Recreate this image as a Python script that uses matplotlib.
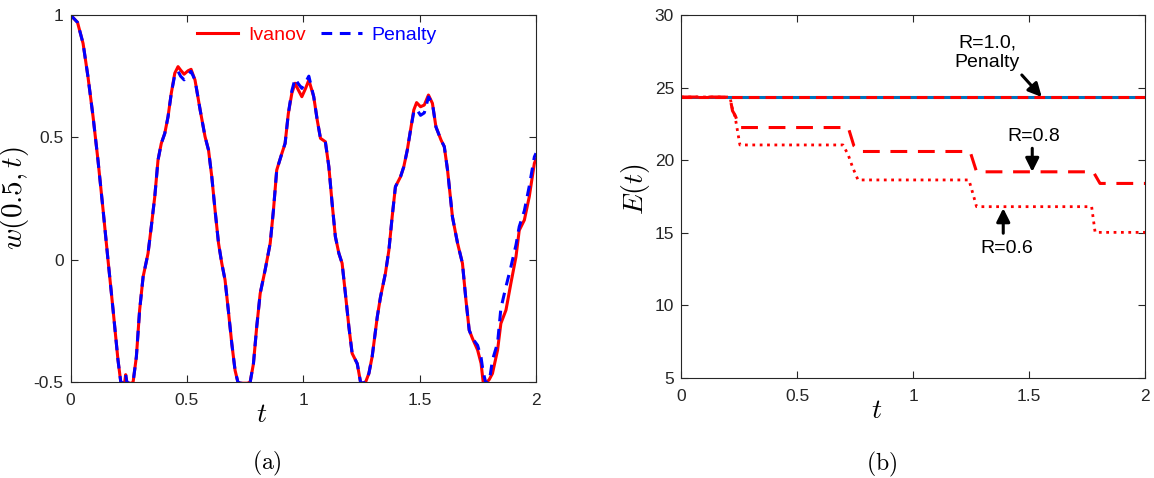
import numpy as np
import matplotlib
matplotlib.use('Agg')
import matplotlib.pyplot as plt

plt.rcParams['font.family'] = ['Liberation Sans', 'DejaVu Sans']
plt.rcParams['mathtext.fontset'] = 'cm'

# (a) displacement at x=0.5
t_iv = [0.0, 0.03, 0.054, 0.075, 0.097, 0.118, 0.14, 0.161, 0.183, 0.204, 0.216, 0.225, 0.233, 0.237, 0.242,
        0.25, 0.262, 0.269, 0.283, 0.297, 0.312, 0.333, 0.347, 0.362, 0.376, 0.39, 0.405, 0.419, 0.433, 0.448,
        0.462, 0.473, 0.488, 0.505, 0.518, 0.535, 0.557, 0.578, 0.593, 0.607, 0.621, 0.636, 0.65, 0.664, 0.678,
        0.693, 0.707, 0.719, 0.73, 0.76, 0.772, 0.786, 0.8, 0.815, 0.836, 0.858, 0.872, 0.886, 0.908, 0.922,
        0.936, 0.951, 0.965, 0.978, 0.994, 1.01, 1.024, 1.045, 1.06, 1.074, 1.095, 1.11, 1.124, 1.138, 1.153,
        1.167, 1.181, 1.196, 1.21, 1.232, 1.246, 1.255, 1.268, 1.282, 1.296, 1.318, 1.332, 1.353, 1.368, 1.382,
        1.396, 1.418, 1.432, 1.447, 1.461, 1.475, 1.487, 1.504, 1.52, 1.538, 1.555, 1.57, 1.592, 1.606, 1.62,
        1.641, 1.663, 1.684, 1.699, 1.713, 1.727, 1.749, 1.764, 1.773, 1.785, 1.799, 1.813, 1.835, 1.849, 1.871,
        1.892, 1.914, 1.928, 1.95, 1.971, 1.993, 2.0]
w_iv = [1.0, 0.97, 0.884, 0.748, 0.584, 0.407, 0.203, 0.0, -0.206, -0.41, -0.5, -0.505, -0.5, -0.47, -0.5,
        -0.505, -0.505, -0.5, -0.397, -0.206, -0.07, 0.025, 0.134, 0.257, 0.407, 0.475, 0.516, 0.584, 0.68, 0.762,
        0.789, 0.775, 0.758, 0.772, 0.778, 0.734, 0.612, 0.503, 0.448, 0.339, 0.203, 0.067, -0.015, -0.083, -0.206,
        -0.343, -0.452, -0.5, -0.505, -0.505, -0.5, -0.425, -0.275, -0.138, -0.043, 0.067, 0.203, 0.366, 0.434, 0.475,
        0.598, 0.68, 0.721, 0.695, 0.666, 0.7, 0.734, 0.666, 0.571, 0.496, 0.482, 0.38, 0.23, 0.094, 0.026,
        -0.015, -0.138, -0.274, -0.383, -0.425, -0.5, -0.505, -0.5, -0.465, -0.397, -0.234, -0.152, -0.056, 0.039, 0.175,
        0.298, 0.339, 0.38, 0.448, 0.53, 0.612, 0.642, 0.625, 0.632, 0.673, 0.639, 0.543, 0.489, 0.462, 0.366,
        0.175, 0.067, -0.015, -0.165, -0.288, -0.322, -0.369, -0.424, -0.5, -0.505, -0.49, -0.465, -0.369, -0.261, -0.206,
        -0.097, 0.012, 0.12, 0.162, 0.257, 0.394, 0.41]
t_pen = t_iv
w_pen = [1.0, 0.97, 0.884, 0.748, 0.584, 0.407, 0.203, 0.0, -0.206, -0.41, -0.5, -0.505, -0.5, -0.47, -0.5,
         -0.505, -0.505, -0.5, -0.397, -0.206, -0.07, 0.025, 0.134, 0.257, 0.407, 0.475, 0.516, 0.584, 0.68, 0.755,
         0.77, 0.75, 0.735, 0.755, 0.77, 0.734, 0.612, 0.503, 0.448, 0.339, 0.203, 0.067, -0.015, -0.083, -0.206,
         -0.343, -0.452, -0.5, -0.505, -0.505, -0.5, -0.425, -0.275, -0.138, -0.043, 0.067, 0.203, 0.366, 0.434, 0.475,
         0.598, 0.69, 0.74, 0.72, 0.70, 0.725, 0.75, 0.666, 0.571, 0.496, 0.482, 0.38, 0.23, 0.094, 0.026,
         -0.015, -0.138, -0.274, -0.383, -0.425, -0.5, -0.505, -0.5, -0.465, -0.397, -0.234, -0.152, -0.056, 0.039, 0.175,
         0.298, 0.339, 0.38, 0.448, 0.53, 0.605, 0.615, 0.59, 0.60, 0.665, 0.639, 0.543, 0.489, 0.462, 0.366,
         0.175, 0.067, -0.015, -0.165, -0.288, -0.322, -0.35, -0.40, -0.46, -0.505, -0.5, -0.41, -0.34, -0.2, -0.11,
         -0.03, 0.06, 0.135, 0.2, 0.3, 0.42, 0.435]

# (b) energy
t_r10 = [0.0, 2.0]
e_r10 = [24.35, 24.35]
t_r08 = [0.0, 0.211, 0.222, 0.233, 0.254, 0.721, 0.745, 0.772, 1.246, 1.274, 1.777, 1.806, 2.0]
e_r08 = [24.35, 24.35, 23.4, 23.1, 22.25, 22.25, 21.0, 20.6, 20.6, 19.2, 19.2, 18.4, 18.4]
t_r06 = [0.0, 0.211, 0.222, 0.233, 0.254, 0.698, 0.72, 0.74, 0.763, 1.241, 1.26, 1.274, 1.77, 1.785, 2.0]
e_r06 = [24.35, 24.35, 23.5, 23.0, 21.05, 21.05, 20.4, 19.5, 18.64, 18.64, 17.6, 16.8, 16.8, 15.03, 15.03]

xticks = [0, 0.5, 1, 1.5, 2]
xticklabels = ['0', '0.5', '1', '1.5', '2']

W, H = 1154, 478
fig = plt.figure(figsize=(W / 100, H / 100), dpi=100)
ax1 = fig.add_axes([70.5 / W, 1 - 382 / H, 465.5 / W, 367 / H])
ax2 = fig.add_axes([681 / W, 1 - 378 / H, 464 / W, 363 / H])

grey = '#262626'
for ax in (ax1, ax2):
    ax.tick_params(direction='in', top=True, right=True, length=5, width=0.8,
                   labelsize=12.5, colors=grey)
    ax.tick_params(axis='x', pad=8)
    ax.tick_params(axis='y', pad=5)
    for s in ax.spines.values():
        s.set_color(grey)
        s.set_linewidth(0.8)
    ax.set_xlim(0, 2)
    ax.set_xticks(xticks)
    ax.set_xticklabels(xticklabels)

ax1.plot(t_iv, w_iv, color='red', lw=2.2, label='Ivanov')
ax1.plot(t_pen, w_pen, color='blue', lw=2.2, ls='--', dashes=(3.5, 2.5), label='Penalty')
ax1.set_ylim(-0.5, 1)
ax1.set_yticks([-0.5, 0, 0.5, 1])
ax1.set_yticklabels(['-0.5', '0', '0.5', '1'])
ax1.set_xlabel(r'$t$', fontsize=20)
ax1.xaxis.set_label_coords(0.411, -0.055)
ax1.set_ylabel(r'$w(0.5,t)$', fontsize=21)
ax1.yaxis.set_label_coords(-0.085, 0.5)
ax1.legend(loc='center', bbox_to_anchor=(0.53, 0.945), ncol=2, frameon=False, fontsize=14,
           handlelength=2.1, handletextpad=0.5, columnspacing=0.8, labelcolor='linecolor')

ax2.plot(t_r10, e_r10, color='#0072BD', lw=2.2)
ax2.plot(t_r10, e_r10, color='red', lw=2.2, ls='--', dashes=(3.5, 2.0))
ax2.plot(t_r08, e_r08, color='red', lw=2.2, ls='--', dashes=(5.5, 3.5))
ax2.plot(t_r06, e_r06, color='red', lw=2.0, ls=':')
ax2.set_ylim(5, 30)
ax2.set_yticks([5, 10, 15, 20, 25, 30])
ax2.set_xlabel(r'$t$', fontsize=20)
ax2.xaxis.set_label_coords(0.422, -0.055)
ax2.set_ylabel(r'$E(t)$', fontsize=20)
ax2.yaxis.set_label_coords(-0.062, 0.52)

arr = dict(arrowstyle='-|>', color='k', lw=2.2, mutation_scale=20, shrinkA=0, shrinkB=0)
ax2.annotate('', xy=(1.555, 24.35), xytext=(1.469, 25.87), arrowprops=arr)
ax2.text(1.32, 27.4, 'R=1.0,\nPenalty', ha='center', va='center', fontsize=14, linespacing=1.15)
ax2.annotate('', xy=(1.514, 19.2), xytext=(1.514, 20.82), arrowprops=arr)
ax2.text(1.519, 21.62, 'R=0.8', ha='center', va='center', fontsize=14)
ax2.annotate('', xy=(1.389, 16.69), xytext=(1.389, 14.97), arrowprops=arr)
ax2.text(1.404, 13.93, 'R=0.6', ha='center', va='center', fontsize=14)

fig.text(267 / W, 1 - 463 / H, r'$\mathrm{(a)}$', ha='center', va='center', fontsize=17)
fig.text(882 / W, 1 - 464 / H, r'$\mathrm{(b)}$', ha='center', va='center', fontsize=17)

plt.savefig('out.png', dpi=100)
